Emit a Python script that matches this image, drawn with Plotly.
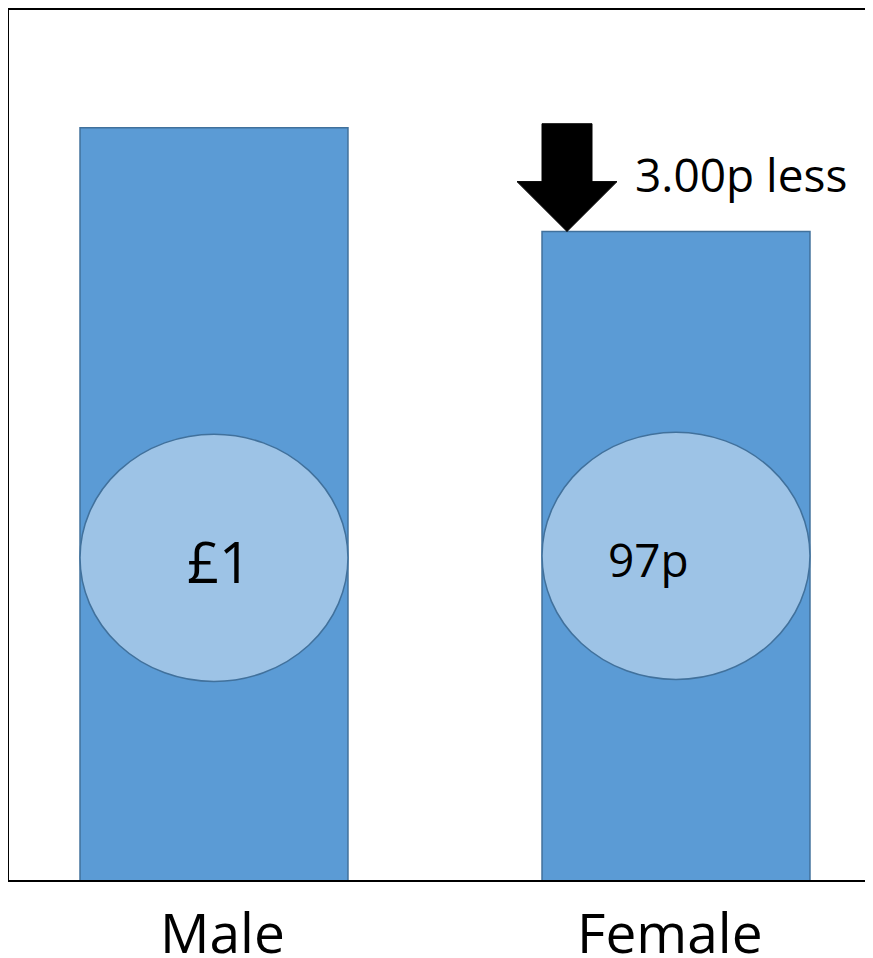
import plotly.graph_objects as go

# Data
categories = ["Male", "Female"]
pay_pence = [100, 97]          # pay per £1 earned by men, in pence
value_labels = ["£1", "97p"]

W, H = 865, 950
ML, MR, MT, MB = 1, 0, 0, 78
BLUE = "#5B9BD5"
EDGE = "#41719C"
LIGHT = "#9DC3E6"
FONT = "Open Sans"

x_range = [-0.4437, 1.4264]
y_range = [78.25, 103.404]
plot_w = W - ML - MR
plot_h = H - MT - MB
px_per_x = plot_w / (x_range[1] - x_range[0])
px_per_y = plot_h / (y_range[1] - y_range[0])
bar_w = 0.58

fig = go.Figure()
fig.add_trace(go.Bar(
    x=list(range(len(categories))), y=pay_pence, width=bar_w,
    marker=dict(color=BLUE, line=dict(color=EDGE, width=1.5)),
    hoverinfo="skip", showlegend=False,
))

shapes = []
annotations = []
# ellipses with value labels
ell_centers = [0.3703, 0.3726]
ell_half = 0.1421
label_dx = [0.01, -0.06]
label_size = [56, 46]
for i, lab in enumerate(value_labels):
    shapes.append(dict(type="circle", xref="x", yref="paper",
                       x0=i - bar_w / 2, x1=i + bar_w / 2,
                       y0=ell_centers[i] - ell_half, y1=ell_centers[i] + ell_half,
                       fillcolor=LIGHT, line=dict(color=EDGE, width=1.5), layer="above"))
    annotations.append(dict(x=i + label_dx[i], y=ell_centers[i] - 0.004, xref="x", yref="paper",
                            text=lab, showarrow=False, xanchor="center", yanchor="middle",
                            font=dict(family=FONT, size=label_size[i], color="black")))

# category labels below the axis
cat_dx = [9, -6]
for i, cat in enumerate(categories):
    annotations.append(dict(x=i + cat_dx[i] / px_per_x, y=-52 / plot_h, xref="x", yref="paper",
                            text=cat, showarrow=False, xanchor="center", yanchor="middle",
                            font=dict(family=FONT, size=55, color="black")))

# block arrow pointing to the female bar top
tip_x = 1 - 109 / px_per_x
tip_y = pay_pence[1]
head_half = 50 / px_per_x
shaft_half = 25 / px_per_x
head_h = 50 / px_per_y
total_h = 108 / px_per_y
pts = [
    (tip_x, tip_y),
    (tip_x - head_half, tip_y + head_h),
    (tip_x - shaft_half, tip_y + head_h),
    (tip_x - shaft_half, tip_y + total_h),
    (tip_x + shaft_half, tip_y + total_h),
    (tip_x + shaft_half, tip_y + head_h),
    (tip_x + head_half, tip_y + head_h),
]
path = "M " + " L ".join(f"{x},{y}" for x, y in pts) + " Z"
shapes.append(dict(type="path", xref="x", yref="y", path=path,
                   fillcolor="black", line=dict(color="black", width=1), layer="above"))

diff = pay_pence[0] - pay_pence[1]
annotations.append(dict(x=1 - 43 / px_per_x, y=tip_y + 58 / px_per_y, xref="x", yref="y",
                        text=f"{diff:.2f}p less", showarrow=False,
                        xanchor="left", yanchor="middle",
                        font=dict(family=FONT, size=46, color="black")))

fig.update_layout(
    width=W, height=H,
    margin=dict(l=ML, r=MR, t=MT, b=MB, pad=0),
    paper_bgcolor="white", plot_bgcolor="white",
    shapes=shapes, annotations=annotations,
    xaxis=dict(range=x_range, showticklabels=False,
               showgrid=False, zeroline=False, showline=True, linecolor="black", linewidth=2,
               mirror=True, ticks="", fixedrange=True),
    yaxis=dict(range=y_range, showgrid=False, zeroline=False, showticklabels=False,
               showline=True, linecolor="black", linewidth=2, ticks="", fixedrange=True),
)

fig.write_html("out.html")
